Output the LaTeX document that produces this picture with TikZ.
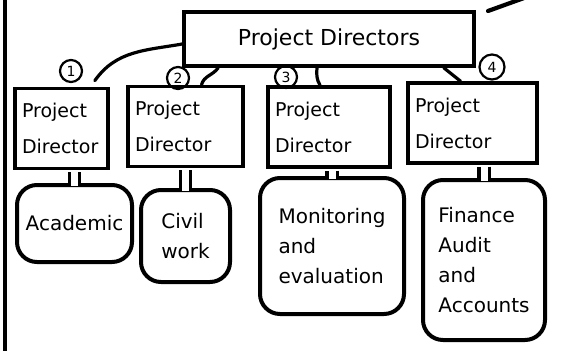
\documentclass[tikz,border=0pt]{standalone}
\usepackage{fontspec}
\setmainfont{DejaVu Sans}
\tikzset{
  pdtop/.style={draw, line width=3.6pt, minimum width=290pt, minimum height=54pt, font=\fontsize{22}{26}\selectfont},
  pdbox/.style={draw, line width=3.6pt, align=left, inner xsep=7pt, text width=#1, minimum height=80pt, font=\fontsize{19}{36}\selectfont},
  unitblob/.style={draw, line width=4pt, rounded corners=20pt, align=left, fill=white, font=\fontsize{20}{30}\selectfont},
  numcirc/.style={circle, draw, line width=2.2pt, minimum size=22pt, inner sep=0pt, font=\fontsize{14}{14}\selectfont},
  link/.style={line width=3.2pt, line cap=round},
  tube/.style={line width=3.4pt, double=white, double distance=7pt, shorten <=1.8pt}
}
\begin{document}
\begin{tikzpicture}[x=1pt,y=1pt]
\useasboundingbox (0,0) rectangle (562,-351);

% left rule:
\coordinate (ruleTop) at (5,0);
\coordinate (ruleBot) at (5,-351);
\draw[line width=3.2pt] (ruleTop) -- (ruleBot);

% top box:
\node[pdtop] (pdTop) at (329,-39) {Project Directors};
\coordinate (penA) at (488,-11);
\coordinate (penB) at (524,2);
\draw[link, line width=4.2pt] (penA) -- (penB);

% director boxes:
\node[pdbox=79pt] (pdOne) at (61.5,-128.5) {Project\\Director};
\node[pdbox=101pt] (pdTwo) at (185.5,-126.5) {Project\\Director};
\node[pdbox=108pt] (pdThree) at (329,-127) {Project\\Director};
\node[pdbox=115pt] (pdFour) at (472.5,-123) {Project\\Director};

% numbers:
\node[numcirc] (numOne) at (71,-71) {1};
\node[numcirc] (numTwo) at (178,-78) {2};
\node[numcirc] (numThree) at (286,-77) {3};
\node[numcirc, minimum size=25pt] (numFour) at (492,-67) {4};

% links to the top box:
\draw[link] ([yshift=-5pt]pdTop.west) to[out=190,in=55] ([xshift=-15pt,yshift=6pt]pdOne.north east);
\draw[link] ([xshift=36pt]pdTop.south west) to[out=235,in=75] ([xshift=16pt]pdTwo.north);
\draw[link] ([xshift=-12pt]pdTop.south) to[out=-95,in=120] ([xshift=-9pt]pdThree.north);
\draw[link] ([xshift=-32pt]pdTop.south east) -- ([xshift=-12pt]pdFour.north);

% units:
\node[unitblob, minimum width=115pt, minimum height=77pt] (unitOne) at (74.5,-223.5) {Academic};
\node[unitblob, minimum width=89pt, minimum height=92pt] (unitTwo) at (185.5,-236) {Civil\\work};
\node[unitblob, minimum width=144pt, minimum height=136pt] (unitThree) at (332,-246) {Monitoring\\and\\evaluation};
\node[unitblob, minimum width=122pt, minimum height=160pt] (unitFour) at (484,-260) {Finance\\Audit\\and\\Accounts};

% necks:
\draw[tube] (pdOne.south -| unitOne.north) -- ([yshift=-3pt]unitOne.north);
\draw[tube] (pdTwo.south -| unitTwo.north) -- ([yshift=-3pt]unitTwo.north);
\draw[tube] (pdThree.south -| unitThree.north) -- ([yshift=-3pt]unitThree.north);
\draw[tube] (pdFour.south -| unitFour.north) -- ([yshift=-3pt]unitFour.north);

\end{tikzpicture}
\end{document}
